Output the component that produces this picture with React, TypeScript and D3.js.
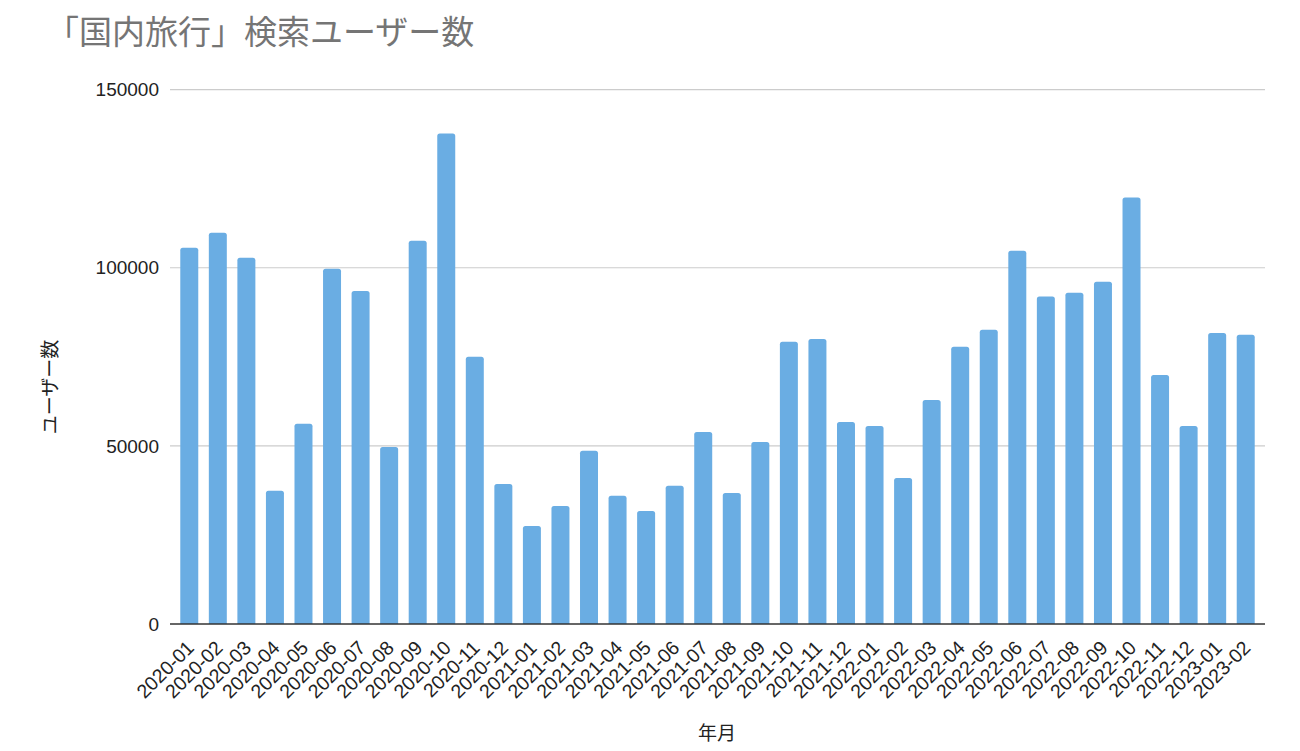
import React from "react";
import * as d3 from "d3";

const months = [
  "2020-01","2020-02","2020-03","2020-04","2020-05","2020-06","2020-07","2020-08","2020-09","2020-10","2020-11","2020-12",
  "2021-01","2021-02","2021-03","2021-04","2021-05","2021-06","2021-07","2021-08","2021-09","2021-10","2021-11","2021-12",
  "2022-01","2022-02","2022-03","2022-04","2022-05","2022-06","2022-07","2022-08","2022-09","2022-10","2022-11","2022-12",
  "2023-01","2023-02",
];
const users = [
  105600, 109800, 102800, 37400, 56200, 99700, 93500, 49700, 107600, 137700, 75000, 39300,
  27500, 33100, 48600, 36000, 31700, 38800, 53900, 36800, 51100, 79200, 80000, 56700,
  55600, 41000, 62900, 77800, 82600, 104800, 91900, 93000, 96100, 119700, 69900, 55600,
  81700, 81200,
];
const yTicks = [0, 50000, 100000, 150000];
const title = "「国内旅行」検索ユーザー数";
const xTitle = "年月";
const yTitle = "ユーザー数";

const W = 1300, H = 751;
const left = 170, right = 1265, top = 89.6, bottom = 624;
const font = "'Liberation Sans', Arial, sans-serif";
const cjk = "'Noto Sans CJK JP', 'Noto Sans', sans-serif";

function barPath(x: number, y: number, w: number, h: number, r: number) {
  const rr = Math.min(r, h / 2, w / 2);
  return `M${x},${y + h}V${y + rr}Q${x},${y} ${x + rr},${y}H${x + w - rr}Q${x + w},${y} ${x + w},${y + rr}V${y + h}Z`;
}

export default function App() {
  const x = d3.scaleBand<string>().domain(months).range([left, right]).paddingInner(0.37).paddingOuter(0.36);
  const y = d3.scaleLinear().domain([0, 150000]).range([bottom, top]);
  return (
    <svg width={W} height={H} style={{ position: "absolute", left: 0, top: 0, background: "#fff" }}>
      <rect x={0} y={0} width={W} height={H} fill="#fff" />
      <text x={46} y={44} fontFamily={cjk} fontSize={33} fill="#757575">{title}</text>
      {yTicks.map((t) => (
        <g key={t}>
          {t > 0 && <line x1={left} x2={right} y1={y(t)} y2={y(t)} stroke="#cccccc" strokeWidth={1.2} />}
          <text x={159} y={y(t)} dy="0.35em" textAnchor="end" fontFamily={font} fontSize={19} fill="#222">{t}</text>
        </g>
      ))}
      {months.map((m, i) => {
        const bx = x(m)!;
        const by = y(users[i]);
        return <path key={m} d={barPath(bx, by, x.bandwidth(), bottom - by, 2.5)} fill="#6aade3" />;
      })}
      <line x1={left} x2={right} y1={bottom} y2={bottom} stroke="#333" strokeWidth={1.3} />
      {months.map((m) => {
        const cx = x(m)! + x.bandwidth() / 2;
        return (
          <text key={m} transform={`translate(${cx + 6},649) rotate(-45)`} textAnchor="end" fontFamily={font} fontSize={19.5} fill="#222">{m}</text>
        );
      })}
      <text x={717} y={740} textAnchor="middle" fontFamily={cjk} fontSize={19} fill="#222">{xTitle}</text>
      <text transform="translate(57,387) rotate(-90)" textAnchor="middle" fontFamily={cjk} fontSize={19} fill="#222">{yTitle}</text>
    </svg>
  );
}
